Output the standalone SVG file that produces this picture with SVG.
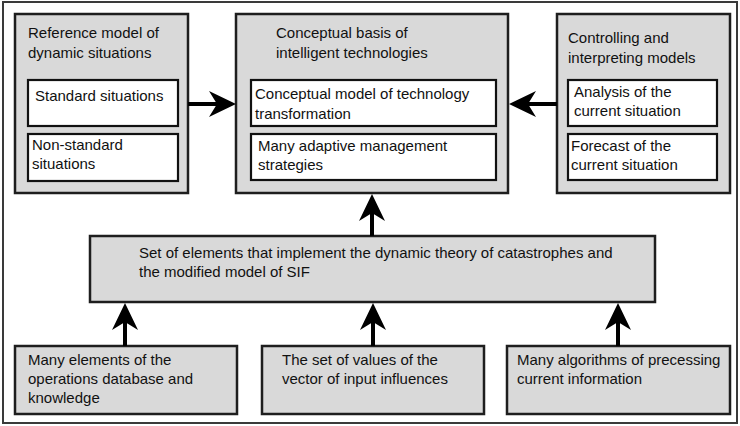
<svg xmlns="http://www.w3.org/2000/svg" width="740" height="426" viewBox="0 0 740 426">
<style>
.frame{fill:#ffffff;stroke:#3a3a3a;stroke-width:2}
.box{fill:#d9d9d9;stroke:#1e1e1e;stroke-width:2.5}
.inner{fill:#ffffff;stroke:#111111;stroke-width:2.2}
.t{font-family:"Liberation Sans",Arial,sans-serif;font-size:15px;fill:#111111}
.arr{stroke:#000000;stroke-width:4;fill:none}
</style>
<defs>
<marker id="head" viewBox="-28 -14 29 28" markerWidth="29" markerHeight="28" refX="-17" refY="0" orient="auto" markerUnits="userSpaceOnUse">
<path d="M0,0 L-27,-13 L-19,0 L-27,13 Z" fill="#000000"/>
</marker>
</defs>
<rect class="frame" x="3" y="2" width="734" height="421"/>
<g id="reference-model">
<rect class="box" x="15" y="14" width="173" height="179"/>
<text class="t" x="28" y="38">Reference model of</text>
<text class="t" x="28" y="58">dynamic situations</text>
<rect class="inner" x="28" y="80" width="150" height="46"/>
<text class="t" x="35" y="101">Standard situations</text>
<rect class="inner" x="28" y="134" width="150" height="47"/>
<text class="t" x="32" y="150">Non-standard</text>
<text class="t" x="32" y="169">situations</text>
</g>
<g id="conceptual-basis">
<rect class="box" x="236" y="14" width="272" height="179"/>
<text class="t" x="276" y="38">Conceptual basis of</text>
<text class="t" x="276" y="58">intelligent technologies</text>
<rect class="inner" x="251" y="80" width="245" height="46"/>
<text class="t" x="255" y="99">Conceptual model of technology</text>
<text class="t" x="255" y="119">transformation</text>
<rect class="inner" x="251" y="134" width="245" height="46"/>
<text class="t" x="258" y="151">Many adaptive management</text>
<text class="t" x="258" y="170">strategies</text>
</g>
<g id="controlling-models">
<rect class="box" x="557" y="14" width="173" height="179"/>
<text class="t" x="568" y="43">Controlling and</text>
<text class="t" x="568" y="63">interpreting models</text>
<rect class="inner" x="568" y="80" width="149" height="46"/>
<text class="t" x="574" y="97">Analysis of the</text>
<text class="t" x="574" y="116">current situation</text>
<rect class="inner" x="568" y="134" width="149" height="46"/>
<text class="t" x="571" y="151">Forecast of the</text>
<text class="t" x="571" y="170">current situation</text>
</g>
<g id="set-of-elements">
<rect class="box" x="90" y="236" width="565" height="66"/>
<text class="t" x="139" y="258">Set of elements that implement the dynamic theory of catastrophes and</text>
<text class="t" x="139" y="277">the modified model of SIF</text>
</g>
<g id="operations-database">
<rect class="box" x="15" y="346" width="222" height="68"/>
<text class="t" x="28" y="365">Many elements of the</text>
<text class="t" x="28" y="384">operations database and</text>
<text class="t" x="28" y="403">knowledge</text>
</g>
<g id="input-influences">
<rect class="box" x="262" y="346" width="222" height="68"/>
<text class="t" x="282" y="365">The set of values of the</text>
<text class="t" x="282" y="384">vector of input influences</text>
</g>
<g id="algorithms">
<rect class="box" x="507" y="346" width="223" height="68"/>
<text class="t" x="517" y="365">Many algorithms of precessing</text>
<text class="t" x="517" y="384">current information</text>
</g>
<g id="connectors">
<line class="arr" x1="188" y1="104" x2="219" y2="104" marker-end="url(#head)"/>
<line class="arr" x1="557" y1="104" x2="526" y2="104" marker-end="url(#head)"/>
<line class="arr" x1="372" y1="236" x2="372" y2="211" marker-end="url(#head)"/>
<line class="arr" x1="125" y1="346" x2="125" y2="320" marker-end="url(#head)"/>
<line class="arr" x1="373" y1="346" x2="373" y2="320" marker-end="url(#head)"/>
<line class="arr" x1="618" y1="346" x2="618" y2="320" marker-end="url(#head)"/>
</g>
</svg>
